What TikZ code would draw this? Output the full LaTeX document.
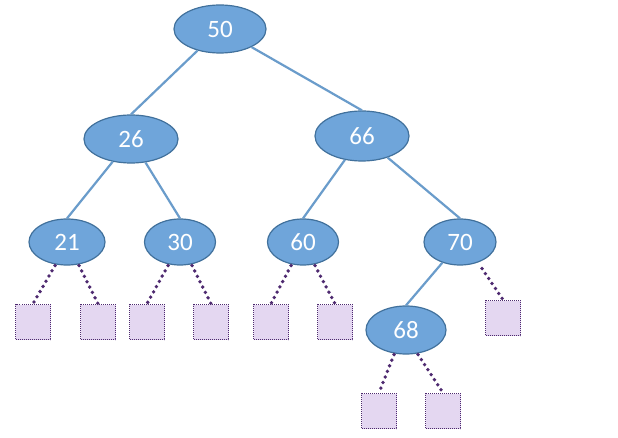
\documentclass[tikz,border=0pt]{standalone}
\usepackage{fontspec}
\setmainfont{Carlito}
\usetikzlibrary{shapes.geometric}
\definecolor{nodefill}{HTML}{6FA5DA}
\definecolor{nodeedge}{HTML}{41719C}
\definecolor{edgeblue}{HTML}{6A9CCB}
\definecolor{leaffill}{HTML}{E4D7F1}
\definecolor{leafedge}{HTML}{4E2A70}
\tikzset{
  key/.style={ellipse, draw=nodeedge, line width=1.2pt, fill=nodefill, text=white,
    inner sep=0pt, font=\fontsize{25}{30}\selectfont},
  leaf/.style={rectangle, draw=leafedge, line width=1.5pt, dash pattern=on 1pt off 1pt, fill=leaffill,
    minimum width=35pt, minimum height=35pt, inner sep=0pt},
  tree/.style={draw=edgeblue, line width=2.2pt},
  nil/.style={draw=leafedge, line width=3.8pt, line cap=round, dash pattern=on 0pt off 6pt}
}
\begin{document}
\begin{tikzpicture}[x=1pt,y=-1pt]
\useasboundingbox (0,0) rectangle (618,438);
\fill[white] (0,0) rectangle (618,438);
% tree edges (drawn first, under the nodes)
\coordinate (p50) at (220,29);
\coordinate (p26) at (131,139);
\coordinate (p66) at (362,136);
\coordinate (p21) at (67,242);
\coordinate (p30) at (180,242);
\coordinate (p60) at (303,242);
\coordinate (p70) at (460,242);
\coordinate (p68) at (406,330);
% internal nodes
\node[key, minimum width=92pt, minimum height=48pt] (n50) at (p50) {50};
\node[key, minimum width=94pt, minimum height=48pt] (n26) at (p26) {26};
\node[key, minimum width=94pt, minimum height=50pt] (n66) at (p66) {66};
\node[key, minimum width=76pt, minimum height=46pt] (n21) at (p21) {21};
\node[key, minimum width=71pt, minimum height=46pt] (n30) at (p30) {30};
\node[key, minimum width=71pt, minimum height=46pt] (n60) at (p60) {60};
\node[key, minimum width=72pt, minimum height=46pt] (n70) at (p70) {70};
\node[key, minimum width=80pt, minimum height=48pt] (n68) at (p68) {68};
% leaves
\node[leaf] (l1) at (33,322) {};
\node[leaf] (l2) at (98,322) {};
\node[leaf] (l3) at (147,322) {};
\node[leaf] (l4) at (211,322) {};
\node[leaf] (l5) at (271,322) {};
\node[leaf] (l6) at (335,322) {};
\node[leaf] (l7) at (503,318) {};
\node[leaf] (l8) at (379,411) {};
\node[leaf] (l9) at (443,411) {};
% tree edges
\draw[tree] (n50) -- (n26.north);
\draw[tree] (n50) -- (n66.north);
\draw[tree] (n26) -- (n21.north);
\draw[tree] (n26) -- (n30.north);
\draw[tree] (n66) -- (n60.north);
\draw[tree] (n66) -- (n70.north);
\draw[tree] (n70) -- (n68.north);
% nil edges
\draw[nil] ([xshift=-12pt]n21.south) -- (l1.north);
\draw[nil] ([xshift=12pt]n21.south) -- (l2.north);
\draw[nil] ([xshift=-12pt]n30.south) -- (l3.north);
\draw[nil] ([xshift=12pt]n30.south) -- (l4.north);
\draw[nil] ([xshift=-12pt]n60.south) -- (l5.north);
\draw[nil] ([xshift=12pt]n60.south) -- (l6.north);
\draw[nil] ([xshift=22pt,yshift=-3pt]n70.south) -- (l7.north);
\draw[nil] ([xshift=-12pt]n68.south) -- (l8.north);
\draw[nil] ([xshift=12pt]n68.south) -- (l9.north);
\end{tikzpicture}
\end{document}
